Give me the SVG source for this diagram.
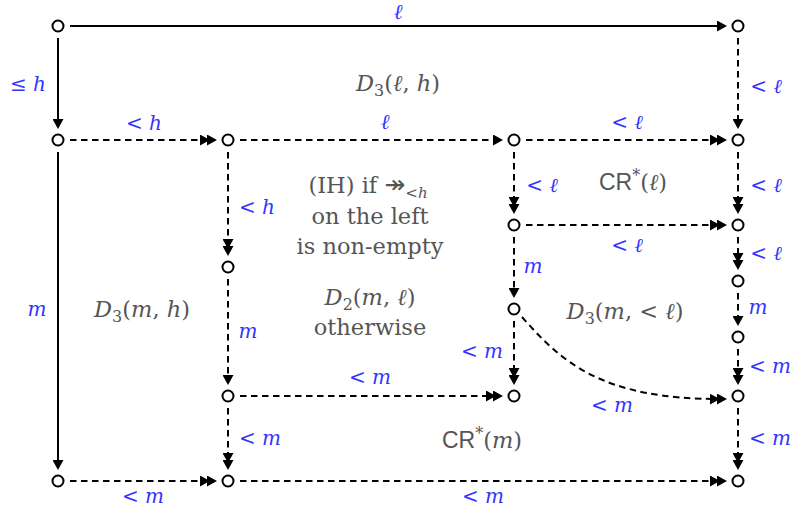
<svg xmlns="http://www.w3.org/2000/svg" width="793" height="515" viewBox="0 0 793 515">
<style>
.nd{fill:#fff;stroke:#000;stroke-width:2}
.e{fill:none;stroke:#000;stroke-width:2}
.d{stroke-dasharray:6.5 4.5}
.s1{marker-end:url(#a1)}
.s2{marker-end:url(#a2)}
.bl{font-size:20px;fill:#3333ff;text-anchor:middle}
.gr{font-size:22.5px;fill:#555;text-anchor:middle}
.sf{font-family:"Liberation Sans","DejaVu Sans",sans-serif}
.i{font-style:italic}
</style>
<defs>
<marker id="a1" viewBox="0 0 10 11" markerWidth="10" markerHeight="11" refX="6" refY="5.5" orient="auto" markerUnits="userSpaceOnUse"><path d="M0,0 L10,5.5 L0,11 z" fill="#000"/></marker>
<marker id="a2" viewBox="0 0 17 11" markerWidth="17" markerHeight="11" refX="13" refY="5.5" orient="auto" markerUnits="userSpaceOnUse"><path d="M0,0 L10,5.5 L0,11 z M7,0 L17,5.5 L7,11 z" fill="#000"/></marker>
</defs>
<rect width="793" height="515" fill="#fff"/>
<g id="connectors">
<path class="e s1" d="M70,26 H723"/>
<path class="e s1" d="M58,38 V125"/>
<path class="e d s1" d="M738,38 V125"/>
<path class="e d s2" d="M70,140 H213"/>
<path class="e d s1" d="M240,140 H499"/>
<path class="e d s2" d="M526,140 H723"/>
<path class="e s1" d="M58,152 V466"/>
<path class="e d s2" d="M228,152 V252"/>
<path class="e d s2" d="M514,152 V210"/>
<path class="e d s2" d="M738,152 V210"/>
<path class="e d s2" d="M526,225 H723"/>
<path class="e d s1" d="M514,237 V294"/>
<path class="e d s2" d="M738,237 V266"/>
<path class="e d s1" d="M738,293 V322"/>
<path class="e d s1" d="M228,279 V381"/>
<path class="e d s2" d="M514,321 V381"/>
<path class="e d s2" d="M522,317 C560,360 600,400 723,399"/>
<path class="e d s2" d="M738,349 V381"/>
<path class="e d s2" d="M240,396 H499"/>
<path class="e d s2" d="M228,408 V466"/>
<path class="e d s2" d="M738,408 V466"/>
<path class="e d s2" d="M70,481 H213"/>
<path class="e d s2" d="M240,481 H723"/>
</g>
<g id="edge-labels" class="bl" font-family="DejaVu Serif, serif">
<text x="398" y="19" class="i" font-size="21">ℓ</text>
<text x="28" y="91">≤ <tspan class="i">h</tspan></text>
<text x="766" y="93">&lt; <tspan class="i">ℓ</tspan></text>
<text x="144" y="130">&lt; <tspan class="i">h</tspan></text>
<text x="385" y="129" class="i" font-size="21">ℓ</text>
<text x="627" y="129">&lt; <tspan class="i">ℓ</tspan></text>
<text x="37" y="316" class="i">m</text>
<text x="257" y="214">&lt; <tspan class="i">h</tspan></text>
<text x="248" y="338" class="i">m</text>
<text x="370" y="384">&lt; <tspan class="i">m</tspan></text>
<text x="482" y="358">&lt; <tspan class="i">m</tspan></text>
<text x="542" y="192">&lt; <tspan class="i">ℓ</tspan></text>
<text x="766" y="192">&lt; <tspan class="i">ℓ</tspan></text>
<text x="627" y="252">&lt; <tspan class="i">ℓ</tspan></text>
<text x="766" y="260">&lt; <tspan class="i">ℓ</tspan></text>
<text x="533" y="273" class="i">m</text>
<text x="758" y="314" class="i">m</text>
<text x="770" y="373">&lt; <tspan class="i">m</tspan></text>
<text x="612" y="412">&lt; <tspan class="i">m</tspan></text>
<text x="770" y="445">&lt; <tspan class="i">m</tspan></text>
<text x="260" y="445">&lt; <tspan class="i">m</tspan></text>
<text x="143" y="503">&lt; <tspan class="i">m</tspan></text>
<text x="483" y="503">&lt; <tspan class="i">m</tspan></text>
</g>
<g id="region-labels" class="gr" font-family="DejaVu Serif, serif">
<text x="398" y="91"><tspan class="i">D</tspan><tspan font-size="16" dy="5">3</tspan><tspan dy="-5">(</tspan><tspan class="i">ℓ</tspan>, <tspan class="i">h</tspan>)</text>
<text x="142" y="317"><tspan class="i">D</tspan><tspan font-size="16" dy="5">3</tspan><tspan dy="-5">(</tspan><tspan class="i">m</tspan>, <tspan class="i">h</tspan>)</text>
<text x="368" y="193">(IH) if <tspan font-family="DejaVu Sans, sans-serif" font-size="25">↠</tspan><tspan font-size="15" dy="5">&lt;</tspan><tspan font-size="15" class="i">h</tspan></text>
<text x="370" y="224">on the left</text>
<text x="370" y="254">is non-empty</text>
<text x="370" y="305"><tspan class="i">D</tspan><tspan font-size="16" dy="5">2</tspan><tspan dy="-5">(</tspan><tspan class="i">m</tspan>, <tspan class="i">ℓ</tspan>)</text>
<text x="370" y="335">otherwise</text>
<text x="633" y="190"><tspan class="sf" font-size="23">CR</tspan><tspan font-size="16" dy="-9">*</tspan><tspan dy="9">(</tspan><tspan class="i">ℓ</tspan>)</text>
<text x="625" y="319"><tspan class="i">D</tspan><tspan font-size="16" dy="5">3</tspan><tspan dy="-5">(</tspan><tspan class="i">m</tspan>, &lt; <tspan class="i">ℓ</tspan>)</text>
<text x="482" y="448"><tspan class="sf" font-size="23">CR</tspan><tspan font-size="16" dy="-9">*</tspan><tspan dy="9">(</tspan><tspan class="i">m</tspan>)</text>
</g>
<g id="n-A"><circle class="nd" cx="58" cy="26" r="5.5"/></g>
<g id="n-B"><circle class="nd" cx="738" cy="26" r="5.5"/></g>
<g id="n-C"><circle class="nd" cx="58" cy="140" r="5.5"/></g>
<g id="n-D"><circle class="nd" cx="228" cy="140" r="5.5"/></g>
<g id="n-E"><circle class="nd" cx="514" cy="140" r="5.5"/></g>
<g id="n-F"><circle class="nd" cx="738" cy="140" r="5.5"/></g>
<g id="n-G"><circle class="nd" cx="514" cy="225" r="5.5"/></g>
<g id="n-H"><circle class="nd" cx="738" cy="225" r="5.5"/></g>
<g id="n-I"><circle class="nd" cx="228" cy="267" r="5.5"/></g>
<g id="n-J"><circle class="nd" cx="738" cy="281" r="5.5"/></g>
<g id="n-K"><circle class="nd" cx="514" cy="309" r="5.5"/></g>
<g id="n-L"><circle class="nd" cx="738" cy="337" r="5.5"/></g>
<g id="n-M"><circle class="nd" cx="228" cy="396" r="5.5"/></g>
<g id="n-N"><circle class="nd" cx="514" cy="396" r="5.5"/></g>
<g id="n-O"><circle class="nd" cx="738" cy="396" r="5.5"/></g>
<g id="n-P"><circle class="nd" cx="58" cy="481" r="5.5"/></g>
<g id="n-Q"><circle class="nd" cx="228" cy="481" r="5.5"/></g>
<g id="n-R"><circle class="nd" cx="738" cy="481" r="5.5"/></g>
</svg>
